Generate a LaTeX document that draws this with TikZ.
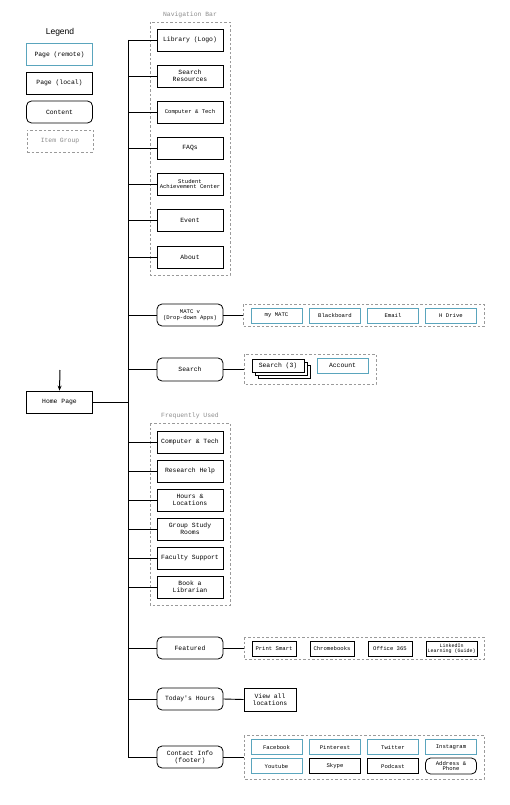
\documentclass[tikz,border=0pt]{standalone}
\usepackage{fontspec}
\setmonofont{Liberation Mono}
\setsansfont{Liberation Sans}
\usetikzlibrary{arrows.meta}
\definecolor{tealc}{HTML}{5AA5BD}
\definecolor{grp}{HTML}{9A9A9A}
\tikzset{
  base/.style={inner sep=0pt, align=center, font=\ttfamily\fontsize{6.4}{6.7}\selectfont, line width=0.8pt, fill=white},
  remote/.style={base, draw=tealc},
  local/.style={base, draw=black},
  content/.style={base, draw=black, rounded corners=5pt},
  group/.style={draw=grp, dashed, dash pattern=on 2.5pt off 2pt, line width=0.6pt},
  grouplbl/.style={font=\ttfamily\fontsize{6.4}{7}\selectfont, text=grp!90!black},
  nav/.style={local, minimum width=66pt, minimum height=22pt},
  wide/.style={minimum width=66pt, minimum height=22pt},
  cell/.style={minimum width=51pt, minimum height=15pt},
  sm/.style={font=\ttfamily\fontsize{5.6}{5.9}\selectfont},
  xs/.style={font=\ttfamily\fontsize{5}{5.3}\selectfont},
  conn/.style={line width=0.9pt},
}
\begin{document}
\begin{tikzpicture}[x=1pt,y=-1pt]
\useasboundingbox (0,0) rectangle (510,805);
% Legend
\node[font=\sffamily\fontsize{8.5}{9}\selectfont] (leg) at (60,32) {Legend};
\node[remote, wide] (lr) at (59.5,54.5) {Page (remote)};
\node[local, wide] (ll) at (59.5,83) {Page (local)};
\node[content, wide] (lc) at (59.5,112) {Content};
\node[group, base, wide, text=grp!90!black] (lg) at (60,141) {Item Group};

% Navigation bar group
\draw[group] (150,22) rectangle (230,275);
\node[grouplbl] (navlbl) at (190,15) {Navigation Bar};
\node[nav] (n1) at (190,40) {Library (Logo)};
\node[nav] (n2) at (190,76) {Search\\Resources};
\node[nav, sm] (n3) at (190,112) {Computer \& Tech};
\node[nav] (n4) at (190,148) {FAQs};
\node[nav, sm] (n5) at (190,184) {Student\\Achievement Center};
\node[nav] (n6) at (190,220) {Event};
\node[nav] (n7) at (190,257) {About};

% Home
\node[local, wide] (home) at (59.5,402) {Home Page};
\coordinate (arrtop) at (60,370);
\draw[-{Stealth[length=5pt,width=4pt]}, line width=1pt] (arrtop) -- (home.north);

% trunk
\coordinate (ttop) at (128,40);
\coordinate (tbot) at (128,757);
\draw[conn] (ttop) -- (tbot);
\draw[conn] (home.east) -- (home.east -| ttop);
\foreach \n in {n1,n2,n3,n4,n5,n6,n7} \draw[conn] (\n.west -| ttop) -- (\n.west);

% MATC
\node[content, wide, sm] (matc) at (190,315) {MATC v\\(Drop-down Apps)};
\draw[group] (243,304) rectangle (484,326);
\coordinate (g1w) at (243,315);
\node[remote, cell, sm] (m1) at (276.5,315.5) {my MATC};
\node[remote, cell, sm] (m2) at (335,315.5) {Blackboard};
\node[remote, cell, sm] (m3) at (393,315.5) {Email};
\node[remote, cell, sm] (m4) at (451,315.5) {H Drive};
\draw[conn] (matc.west -| ttop) -- (matc.west);
\draw[conn] (matc.east) -- (g1w);

% Search
\node[content, wide, minimum height=23pt] (srch) at (190,369.5) {Search};
\draw[group] (244,354) rectangle (376,384);
\coordinate (g2w) at (244,369.5);
\draw[local] (258,365) rectangle (310,378);
\draw[local] (255,362) rectangle (307,375);
\node[local, cell, minimum height=13pt, minimum width=52pt] (s3) at (278,365.5) {Search (3)};
\node[remote, cell] (acc) at (342.5,365.5) {Account};
\draw[conn] (srch.west -| ttop) -- (srch.west);
\draw[conn] (srch.east) -- (g2w);

% Frequently used
\draw[group] (150,423) rectangle (230,605);
\node[grouplbl] (fulbl) at (190,416) {Frequently Used};
\node[nav] (f1) at (190,442) {Computer \& Tech};
\node[nav] (f2) at (190,471) {Research Help};
\node[nav] (f3) at (190,500) {Hours \&\\Locations};
\node[nav] (f4) at (190,529) {Group Study\\Rooms};
\node[nav] (f5) at (190,558) {Faculty Support};
\node[nav] (f6) at (190,587) {Book a\\Librarian};
\foreach \n in {f1,f2,f3,f4,f5,f6} \draw[conn] (\n.west -| ttop) -- (\n.west);

% Featured
\node[content, wide] (feat) at (190,648) {Featured};
\draw[group] (244,637) rectangle (484,659);
\coordinate (g3w) at (244,648);
\node[local, sm, minimum width=44pt, minimum height=15pt] (p1) at (274,648.5) {Print Smart};
\node[local, sm, minimum width=44pt, minimum height=15pt] (p2) at (332,648.5) {Chromebooks};
\node[local, sm, minimum width=44pt, minimum height=15pt] (p3) at (390,648.5) {Office 365};
\node[local, xs, cell, line width=1pt] (p4) at (451.5,648.5) {LinkedIn\\Learning (Guide)};
\draw[conn] (feat.west -| ttop) -- (feat.west);
\draw[conn] (feat.east) -- (g3w);

% Today's hours
\node[content, wide] (hours) at (190,699) {Today's Hours};
\node[local, minimum width=52pt, minimum height=23pt] (view) at (270,699.5) {View all\\locations};
\draw[conn] (hours.west -| ttop) -- (hours.west);
\draw[conn] (hours.east) -- (view.west);

% Contact
\node[content, wide] (cont) at (190,757) {Contact Info\\(footer)};
\draw[group] (244,735) rectangle (484,779);
\coordinate (g4w) at (244,757);
\node[remote, cell, sm] (c1) at (276.5,747) {Facebook};
\node[remote, cell, sm] (c2) at (335,747) {Pinterest};
\node[remote, cell, sm] (c3) at (393,747) {Twitter};
\node[remote, cell, sm] (c4) at (451,747) {Instagram};
\node[remote, cell, sm] (c5) at (276.5,766) {Youtube};
\node[local, cell, sm] (c6) at (335,766) {Skype};
\node[local, cell, sm] (c7) at (393,766) {Podcast};
\node[content, cell, sm, rounded corners=5pt, minimum height=16pt] (c8) at (451,766) {Address \&\\Phone};
\draw[conn] (tbot) -- (cont.west);
\draw[conn] (cont.east) -- (g4w);
\end{tikzpicture}
\end{document}
